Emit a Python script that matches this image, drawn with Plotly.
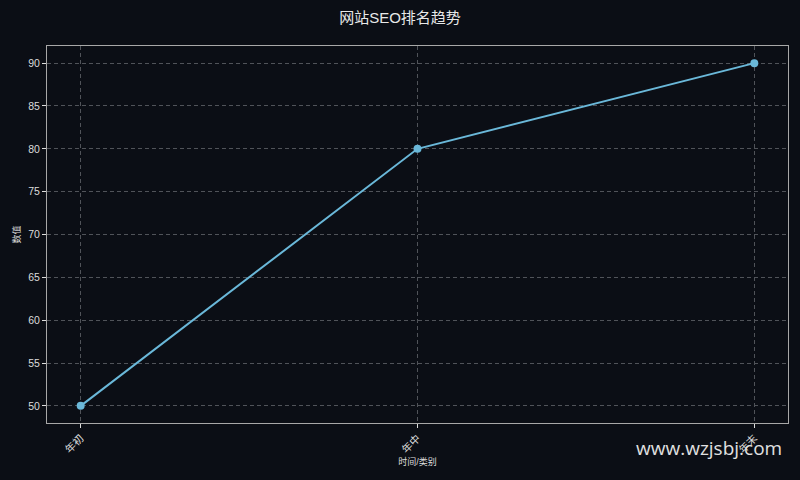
import plotly.graph_objects as go

categories = ["年初", "年中", "年末"]
values = [50, 80, 90]

bg = "#0b0e15"
line_color = "#6ab8d9"
fg = "#dcdcdc"
font = "Liberation Sans, Noto Sans CJK SC"

fig = go.Figure()
fig.add_trace(go.Scatter(
    x=[0, 1, 2], y=values, mode="lines+markers",
    line=dict(color=line_color, width=2),
    marker=dict(color=line_color, size=8),
))

fig.update_layout(
    width=800, height=480,
    paper_bgcolor=bg, plot_bgcolor=bg,
    margin=dict(l=47, r=12, t=46, b=57),
    showlegend=False,
    font=dict(family=font, color=fg, size=10.5),
    title=dict(text="网站SEO排名趋势", x=0.5, xanchor="center", y=0.963,
               yanchor="middle", font=dict(size=15, color="#e8e8e8")),
)
fig.update_xaxes(
    range=[-0.1, 2.1], tickmode="array", tickvals=[0, 1, 2], ticktext=categories,
    tickangle=-45, ticks="outside", ticklen=4, tickcolor=fg,
    showline=True, linecolor="#a8a8a8", linewidth=1, mirror=True,
    showgrid=True, gridcolor="#505359", griddash="4px,3px", gridwidth=1,
    zeroline=False,
    title=dict(text="时间/类别", font=dict(size=9), standoff=4),
)
fig.update_yaxes(
    range=[48, 92], tickvals=[50, 55, 60, 65, 70, 75, 80, 85, 90],
    ticks="outside", ticklen=4, tickcolor=fg,
    showline=True, linecolor="#a8a8a8", linewidth=1, mirror=True,
    showgrid=True, gridcolor="#505359", griddash="4px,3px", gridwidth=1,
    zeroline=False,
    title=dict(text="数值", font=dict(size=9), standoff=6),
)
fig.add_annotation(
    text="www.wzjsbj.com", xref="paper", yref="paper", x=0.994, y=-0.065,
    xanchor="right", yanchor="middle", showarrow=False,
    font=dict(size=19, color="#e0e0e0", family="Open Sans, DejaVu Sans"),
)

fig.write_html("out.html", config={"displayModeBar": False},
               post_script="document.body.style.margin='0px';")
